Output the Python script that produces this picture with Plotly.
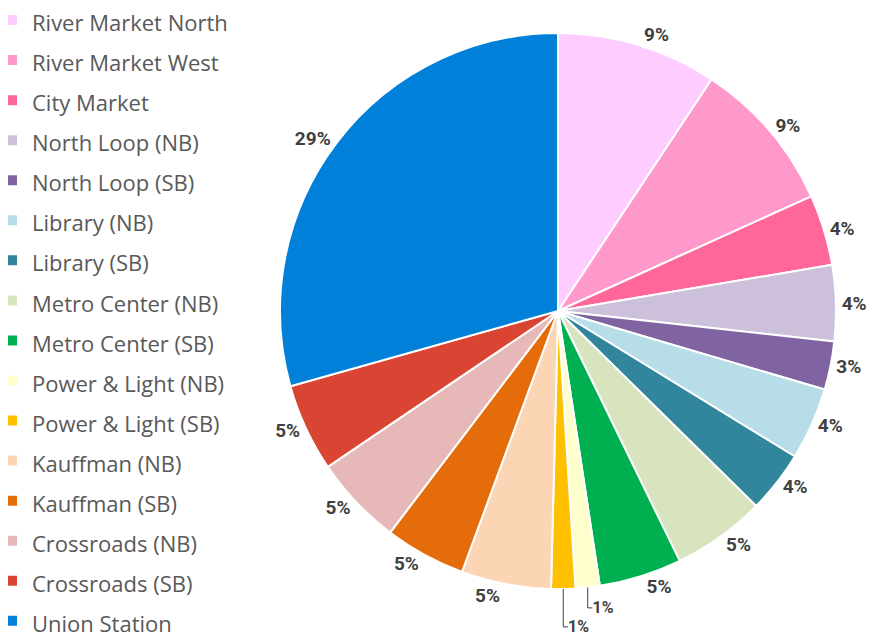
import plotly.graph_objects as go

stations = ["River Market North", "River Market West", "City Market", "North Loop (NB)",
            "North Loop (SB)", "Library (NB)", "Library (SB)", "Metro Center (NB)",
            "Metro Center (SB)", "Power & Light (NB)", "Power & Light (SB)", "Kauffman (NB)",
            "Kauffman (SB)", "Crossroads (NB)", "Crossroads (SB)", "Union Station"]
shares = [9.3, 8.9, 4.1, 4.4, 2.8, 4.2, 3.6, 5.4, 4.8, 1.4, 1.4, 5.2, 4.7, 5.2, 5.1, 29.3]
colors = ["#FFCCFF", "#FF99CC", "#FF6699", "#CCC0DA", "#8064A2", "#B7DEE8", "#31859C",
          "#D7E4BD", "#00B050", "#FFFFCC", "#FFC000", "#FCD5B5", "#E46C0A", "#E6B9B8",
          "#DA4432", "#0080D8"]

legend_names = ["<span style='font-size:22px'>%s</span>" % s.replace("&", "&amp;") for s in stations]
label_sizes = [16 if v < 2 else 19 for v in shares]

W, H = 886, 639
OFF = 8  # page body margin
fig = go.Figure(go.Pie(
    labels=legend_names,
    values=shares,
    sort=False,
    direction="clockwise",
    rotation=0,
    marker=dict(colors=colors, line=dict(color="white", width=2)),
    texttemplate="%{percent:.0%}",
    textposition="outside",
    outsidetextfont=dict(family="Liberation Sans Narrow, Roboto, Arial", size=label_sizes,
                         color="#404040", weight="bold"),
    hoverinfo="label+percent",
    domain=dict(x=[(280 - OFF) / W, (836 - OFF) / W], y=[1 - (589 - OFF) / H, 1 - (33 - OFF) / H]),
))

fig.update_layout(
    width=W, height=H,
    margin=dict(l=0, r=0, t=0, b=0, autoexpand=False),
    paper_bgcolor="white",
    plot_bgcolor="white",
    showlegend=True,
    legend=dict(
        x=-16 / W, y=1 + 13 / H, xanchor="left", yanchor="top",
        font=dict(family="Open Sans, Noto Sans, sans-serif", size=28.5, color="#595959"),
        bgcolor="rgba(0,0,0,0)",
    ),
)
try:
    fig.update_layout(legend_maxheight=800)
except Exception:
    pass

fig.write_html("out.html")
